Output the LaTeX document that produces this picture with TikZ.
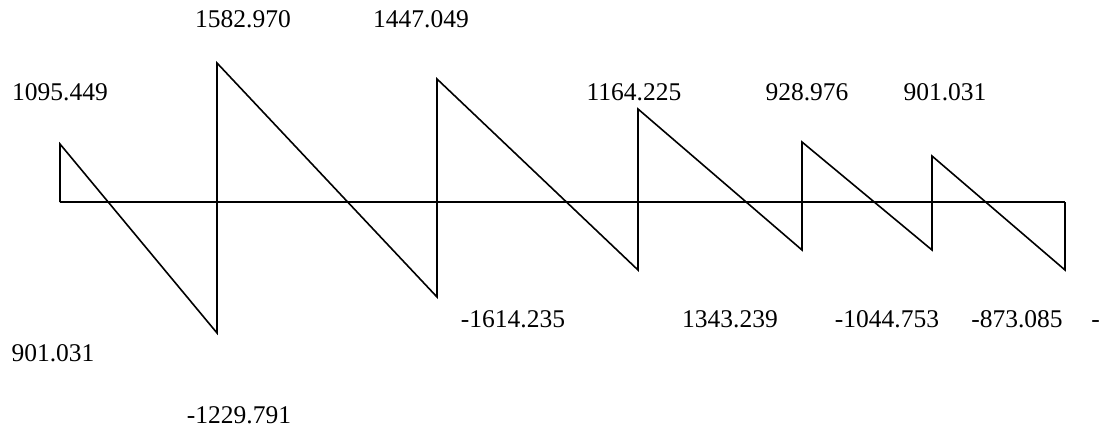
\documentclass[tikz,border=0pt]{standalone}
\usepackage{fontspec}
\setmainfont{Liberation Serif}
\begin{document}
\begin{tikzpicture}[x=1pt,y=-1pt,
  lbl/.style={anchor=base,inner sep=0pt,font=\fontsize{25.5}{30}\selectfont},
  diag/.style={line width=1.6pt,line join=miter,black}]
\useasboundingbox (0,0) rectangle (1102,428);
% axis
\coordinate (a0) at (60,202);
\coordinate (a1) at (217,202);
\coordinate (a2) at (437,202);
\coordinate (a3) at (638,202);
\coordinate (a4) at (802,202);
\coordinate (a5) at (932,202);
\coordinate (a6) at (1065,202);
% peaks and troughs
\coordinate (p0) at (60,144);
\coordinate (t1) at (217,333);
\coordinate (p1) at (217,63);
\coordinate (t2) at (437,297);
\coordinate (p2) at (437,79);
\coordinate (t3) at (638,270);
\coordinate (p3) at (638,109);
\coordinate (t4) at (802,250);
\coordinate (p4) at (802,142);
\coordinate (t5) at (932,250);
\coordinate (p5) at (932,156);
\coordinate (t6) at (1065,270);
\draw[diag] (a0) -- (a6);
\draw[diag] (a0) -- (p0) -- (t1) -- (p1) -- (t2) -- (p2) -- (t3) -- (p3)
  -- (t4) -- (p4) -- (t5) -- (p5) -- (t6) -- (a6);
% labels
\node[lbl] (l1) at (243,28) {1582.970};
\node[lbl] (l2) at (421,28) {1447.049};
\node[lbl] (l3) at (60,100) {1095.449};
\node[lbl] (l4) at (634,100) {1164.225};
\node[lbl] (l5) at (807,100) {928.976};
\node[lbl] (l6) at (945,100) {901.031};
\node[lbl] (l7) at (53,361) {901.031};
\node[lbl] (l8) at (239,423) {-1229.791};
\node[lbl] (l9) at (513,327) {-1614.235};
\node[lbl] (l10) at (730,327) {1343.239};
\node[lbl] (l11) at (887,327) {-1044.753};
\node[lbl] (l12) at (1017,327) {-873.085};
\node[lbl] (l13) at (1095.5,327) {-};
\end{tikzpicture}
\end{document}
